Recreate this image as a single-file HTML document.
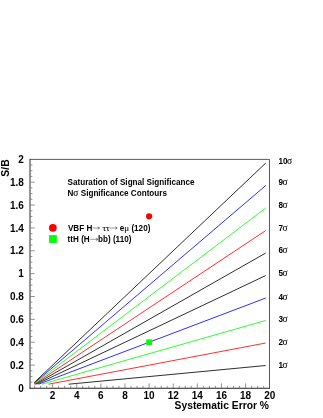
<!DOCTYPE html>
<html><head><meta charset="utf-8"><title>Saturation of Signal Significance</title>
<style>
html,body{margin:0;padding:0;background:#fff;}
body{width:323px;height:418px;overflow:hidden;}
svg{display:block;}
text{font-family:"Liberation Sans",sans-serif;font-weight:bold;fill:#000;}
.g{font-family:"Liberation Serif",serif;font-weight:normal;stroke:#000;stroke-width:0.1px;}
</style></head><body>
<svg width="323" height="418" viewBox="0 0 323 418" style="will-change:transform;opacity:0.999">
<rect x="0" y="0" width="323" height="418" fill="#fff"/>

<g fill="none" stroke-width="0.82" stroke-linecap="butt">
<line x1="68.66" y1="384.19" x2="265.70" y2="365.51" stroke="#000"/>
<line x1="48.58" y1="384.19" x2="265.70" y2="343.02" stroke="#f00"/>
<line x1="41.89" y1="384.19" x2="265.70" y2="320.53" stroke="#0f0"/>
<line x1="38.54" y1="384.19" x2="265.70" y2="298.04" stroke="#00f"/>
<line x1="36.53" y1="384.19" x2="265.70" y2="275.55" stroke="#000"/>
<line x1="35.19" y1="384.19" x2="265.70" y2="253.06" stroke="#000"/>
<line x1="34.24" y1="384.19" x2="265.70" y2="230.57" stroke="#f00"/>
<line x1="34.17" y1="383.70" x2="265.70" y2="208.08" stroke="#0f0"/>
<line x1="34.17" y1="383.16" x2="265.70" y2="185.59" stroke="#00f"/>
<line x1="34.17" y1="382.63" x2="265.70" y2="163.10" stroke="#000"/>
</g>
<g stroke="#777" stroke-width="0.8" fill="none">
<path d="M30.0 159.4H269.5V388.0" stroke="#5a5a5a" stroke-width="1"/>
<path d="M29.5 388.25H270.0" stroke="#222" stroke-width="1"/>
<path d="M30.0 158.9V388.5" stroke="#2a2a2a" stroke-width="1"/>
<line x1="34.53" y1="388.0" x2="34.53" y2="385.80"/>
<line x1="40.56" y1="388.0" x2="40.56" y2="385.80"/>
<line x1="46.59" y1="388.0" x2="46.59" y2="385.80"/>
<line x1="52.62" y1="388.0" x2="52.62" y2="383.40"/>
<line x1="58.65" y1="388.0" x2="58.65" y2="385.80"/>
<line x1="64.68" y1="388.0" x2="64.68" y2="385.80"/>
<line x1="70.71" y1="388.0" x2="70.71" y2="385.80"/>
<line x1="76.74" y1="388.0" x2="76.74" y2="383.40"/>
<line x1="82.77" y1="388.0" x2="82.77" y2="385.80"/>
<line x1="88.80" y1="388.0" x2="88.80" y2="385.80"/>
<line x1="94.83" y1="388.0" x2="94.83" y2="385.80"/>
<line x1="100.86" y1="388.0" x2="100.86" y2="383.40"/>
<line x1="106.89" y1="388.0" x2="106.89" y2="385.80"/>
<line x1="112.92" y1="388.0" x2="112.92" y2="385.80"/>
<line x1="118.95" y1="388.0" x2="118.95" y2="385.80"/>
<line x1="124.98" y1="388.0" x2="124.98" y2="383.40"/>
<line x1="131.01" y1="388.0" x2="131.01" y2="385.80"/>
<line x1="137.04" y1="388.0" x2="137.04" y2="385.80"/>
<line x1="143.07" y1="388.0" x2="143.07" y2="385.80"/>
<line x1="149.10" y1="388.0" x2="149.10" y2="383.40"/>
<line x1="155.13" y1="388.0" x2="155.13" y2="385.80"/>
<line x1="161.16" y1="388.0" x2="161.16" y2="385.80"/>
<line x1="167.19" y1="388.0" x2="167.19" y2="385.80"/>
<line x1="173.22" y1="388.0" x2="173.22" y2="383.40"/>
<line x1="179.25" y1="388.0" x2="179.25" y2="385.80"/>
<line x1="185.28" y1="388.0" x2="185.28" y2="385.80"/>
<line x1="191.31" y1="388.0" x2="191.31" y2="385.80"/>
<line x1="197.34" y1="388.0" x2="197.34" y2="383.40"/>
<line x1="203.37" y1="388.0" x2="203.37" y2="385.80"/>
<line x1="209.40" y1="388.0" x2="209.40" y2="385.80"/>
<line x1="215.43" y1="388.0" x2="215.43" y2="385.80"/>
<line x1="221.46" y1="388.0" x2="221.46" y2="383.40"/>
<line x1="227.49" y1="388.0" x2="227.49" y2="385.80"/>
<line x1="233.52" y1="388.0" x2="233.52" y2="385.80"/>
<line x1="239.55" y1="388.0" x2="239.55" y2="385.80"/>
<line x1="245.58" y1="388.0" x2="245.58" y2="383.40"/>
<line x1="251.61" y1="388.0" x2="251.61" y2="385.80"/>
<line x1="257.64" y1="388.0" x2="257.64" y2="385.80"/>
<line x1="263.67" y1="388.0" x2="263.67" y2="385.80"/>
<line x1="30.0" y1="382.28" x2="32.40" y2="382.28"/>
<line x1="30.0" y1="376.56" x2="32.40" y2="376.56"/>
<line x1="30.0" y1="370.85" x2="32.40" y2="370.85"/>
<line x1="30.0" y1="365.13" x2="34.80" y2="365.13"/>
<line x1="30.0" y1="359.41" x2="32.40" y2="359.41"/>
<line x1="30.0" y1="353.69" x2="32.40" y2="353.69"/>
<line x1="30.0" y1="347.98" x2="32.40" y2="347.98"/>
<line x1="30.0" y1="342.26" x2="34.80" y2="342.26"/>
<line x1="30.0" y1="336.54" x2="32.40" y2="336.54"/>
<line x1="30.0" y1="330.82" x2="32.40" y2="330.82"/>
<line x1="30.0" y1="325.11" x2="32.40" y2="325.11"/>
<line x1="30.0" y1="319.39" x2="34.80" y2="319.39"/>
<line x1="30.0" y1="313.67" x2="32.40" y2="313.67"/>
<line x1="30.0" y1="307.95" x2="32.40" y2="307.95"/>
<line x1="30.0" y1="302.24" x2="32.40" y2="302.24"/>
<line x1="30.0" y1="296.52" x2="34.80" y2="296.52"/>
<line x1="30.0" y1="290.80" x2="32.40" y2="290.80"/>
<line x1="30.0" y1="285.09" x2="32.40" y2="285.09"/>
<line x1="30.0" y1="279.37" x2="32.40" y2="279.37"/>
<line x1="30.0" y1="273.65" x2="34.80" y2="273.65"/>
<line x1="30.0" y1="267.93" x2="32.40" y2="267.93"/>
<line x1="30.0" y1="262.21" x2="32.40" y2="262.21"/>
<line x1="30.0" y1="256.50" x2="32.40" y2="256.50"/>
<line x1="30.0" y1="250.78" x2="34.80" y2="250.78"/>
<line x1="30.0" y1="245.06" x2="32.40" y2="245.06"/>
<line x1="30.0" y1="239.34" x2="32.40" y2="239.34"/>
<line x1="30.0" y1="233.63" x2="32.40" y2="233.63"/>
<line x1="30.0" y1="227.91" x2="34.80" y2="227.91"/>
<line x1="30.0" y1="222.19" x2="32.40" y2="222.19"/>
<line x1="30.0" y1="216.48" x2="32.40" y2="216.48"/>
<line x1="30.0" y1="210.76" x2="32.40" y2="210.76"/>
<line x1="30.0" y1="205.04" x2="34.80" y2="205.04"/>
<line x1="30.0" y1="199.32" x2="32.40" y2="199.32"/>
<line x1="30.0" y1="193.60" x2="32.40" y2="193.60"/>
<line x1="30.0" y1="187.89" x2="32.40" y2="187.89"/>
<line x1="30.0" y1="182.17" x2="34.80" y2="182.17"/>
<line x1="30.0" y1="176.45" x2="32.40" y2="176.45"/>
<line x1="30.0" y1="170.73" x2="32.40" y2="170.73"/>
<line x1="30.0" y1="165.02" x2="32.40" y2="165.02"/>
</g>
<g font-size="10.0">
<text x="52.62" y="398.8" text-anchor="middle">2</text>
<text x="76.74" y="398.8" text-anchor="middle">4</text>
<text x="100.86" y="398.8" text-anchor="middle">6</text>
<text x="124.98" y="398.8" text-anchor="middle">8</text>
<text x="149.10" y="398.8" text-anchor="middle">10</text>
<text x="173.22" y="398.8" text-anchor="middle">12</text>
<text x="197.34" y="398.8" text-anchor="middle">14</text>
<text x="221.46" y="398.8" text-anchor="middle">16</text>
<text x="245.58" y="398.8" text-anchor="middle">18</text>
<text x="269.70" y="398.8" text-anchor="middle">20</text>
<text x="23.9" y="391.70" text-anchor="end">0</text>
<text x="23.9" y="368.83" text-anchor="end">0.2</text>
<text x="23.9" y="345.96" text-anchor="end">0.4</text>
<text x="23.9" y="323.09" text-anchor="end">0.6</text>
<text x="23.9" y="300.22" text-anchor="end">0.8</text>
<text x="23.9" y="277.35" text-anchor="end">1</text>
<text x="23.9" y="254.48" text-anchor="end">1.2</text>
<text x="23.9" y="231.61" text-anchor="end">1.4</text>
<text x="23.9" y="208.74" text-anchor="end">1.6</text>
<text x="23.9" y="185.87" text-anchor="end">1.8</text>
<text x="23.9" y="163.00" text-anchor="end">2</text>
</g>
<text x="269" y="408.9" font-size="10.3" text-anchor="end">Systematic Error %</text>
<text transform="translate(8.6,159.3) rotate(-90)" font-size="10.4" text-anchor="end">S/B</text>
<g font-size="8.15">
<text x="67.6" y="185.2">Saturation of Signal Significance</text>
<text x="67.6" y="196.4">N</text><text class="g" font-size="9.5" x="73.2" y="196.4">σ</text><text x="80.75" y="196.4">Significance Contours</text>
<text x="67.9" y="230.7">VBF H</text>
<path d="M92.50 228.00H99.60M97.50 226.65L99.60 228.00L97.50 229.35" fill="none" stroke="#333" stroke-width="0.5" stroke-linejoin="miter"/>
<text class="g" y="230.7" font-size="9"><tspan x="102.5">τ</tspan><tspan x="106.1">τ</tspan></text>
<path d="M110.00 228.00H117.30M115.20 226.65L117.30 228.00L115.20 229.35" fill="none" stroke="#333" stroke-width="0.5" stroke-linejoin="miter"/>
<text x="119.8" y="230.7">e</text>
<text class="g" x="124.3" y="230.7" font-size="9">μ</text>
<text x="131.4" y="230.7">(120)</text>
<text x="67.6" y="241.8">ttH (H</text>
<path d="M90.10 239.30H98.00M95.90 237.95L98.00 239.30L95.90 240.65" fill="none" stroke="#333" stroke-width="0.5" stroke-linejoin="miter"/>
<text x="98.0" y="241.8">bb) (110)</text>
<text x="278.5" y="368.00">1</text><text class="g" font-size="9.5" x="282.53" y="368.00">σ</text>
<text x="278.5" y="345.10">2</text><text class="g" font-size="9.5" x="282.53" y="345.10">σ</text>
<text x="278.5" y="322.30">3</text><text class="g" font-size="9.5" x="282.53" y="322.30">σ</text>
<text x="278.5" y="299.50">4</text><text class="g" font-size="9.5" x="282.53" y="299.50">σ</text>
<text x="278.5" y="276.40">5</text><text class="g" font-size="9.5" x="282.53" y="276.40">σ</text>
<text x="278.5" y="253.30">6</text><text class="g" font-size="9.5" x="282.53" y="253.30">σ</text>
<text x="278.5" y="230.80">7</text><text class="g" font-size="9.5" x="282.53" y="230.80">σ</text>
<text x="278.5" y="208.00">8</text><text class="g" font-size="9.5" x="282.53" y="208.00">σ</text>
<text x="278.5" y="185.00">9</text><text class="g" font-size="9.5" x="282.53" y="185.00">σ</text>
<text x="278.5" y="163.60">10</text><text class="g" font-size="9.5" x="287.06" y="163.60">σ</text>
</g>
<circle cx="52.85" cy="227.85" r="3.9" fill="#f00"/>
<rect x="49.05" y="235.15" width="7.8" height="7.8" fill="#0f0"/>
<circle cx="149.10" cy="216.28" r="3.1" fill="#f00"/>
<rect x="146.20" y="339.41" width="5.8" height="5.7" fill="#0f0"/>
</svg></body></html>
